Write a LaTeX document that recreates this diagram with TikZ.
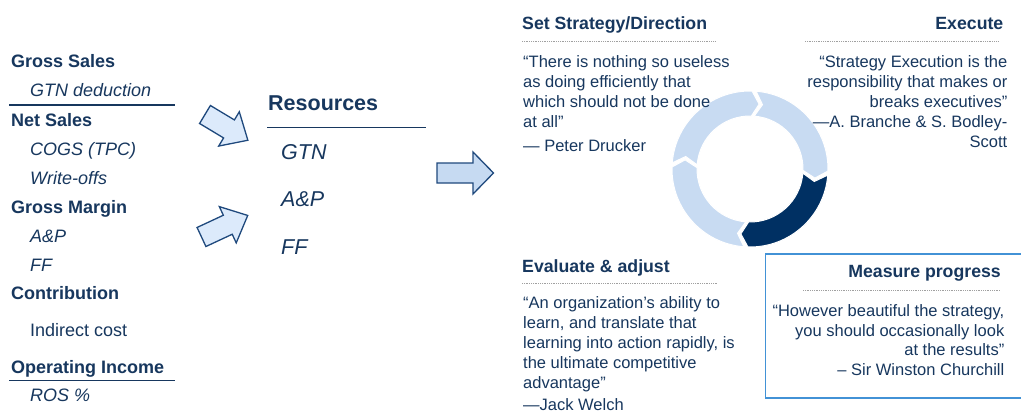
\documentclass[tikz,border=0pt]{standalone}
\usepackage{fontspec}
\setmainfont{Liberation Sans}
\definecolor{navy}{RGB}{23,55,94}
\definecolor{darkseg}{RGB}{0,48,99}
\definecolor{lightseg}{RGB}{200,219,242}
\definecolor{arrowfill}{RGB}{220,234,251}
\definecolor{arrowfillb}{RGB}{198,218,242}
\definecolor{arrowline}{RGB}{31,73,125}
\definecolor{boxline}{RGB}{66,146,214}
\definecolor{dotgray}{RGB}{160,160,160}
\tikzset{
  listbold/.style={anchor=base west, inner sep=0, text=navy, font=\fontsize{18}{21.6}\selectfont\bfseries},
  listit/.style={anchor=base west, inner sep=0, text=navy, font=\fontsize{18}{21.6}\selectfont\itshape},
  listreg/.style={anchor=base west, inner sep=0, text=navy, font=\fontsize{18}{21.6}\selectfont},
  resbold/.style={anchor=base west, inner sep=0, text=navy, font=\fontsize{21.5}{25}\selectfont\bfseries},
  resit/.style={anchor=base west, inner sep=0, text=navy, font=\fontsize{21.5}{25}\selectfont\itshape},
  head/.style={inner sep=0, text=navy, font=\fontsize{17.7}{20}\selectfont\bfseries},
  quote/.style={inner sep=0, text=navy, font=\fontsize{16.5}{20}\selectfont},
  rule/.style={draw=navy, line width=1.4pt},
  dotrule/.style={draw=dotgray, line width=0.9pt, dash pattern=on 0.9pt off 0.9pt},
  blockarrow/.style={draw=arrowline, line width=1.3pt, fill=arrowfill, line join=miter},
  seg/.style={draw=white, line width=1pt},
}
\newcommand{\ringseg}[2]{% #1 start angle, #2 fill colour
  \fill[#2, seg] ({#1-1.5}:78) arc[start angle={#1-1.5}, end angle={#1-88.5}, radius=78]
    -- ({#1-95}:65.5) -- ({#1-88.5}:53)
    arc[start angle={#1-88.5}, end angle={#1-1.5}, radius=53]
    -- ({#1-8}:65.5) -- cycle;}
\begin{document}
\begin{tikzpicture}[x=1pt,y=-1pt]
\useasboundingbox (0,0) rectangle (1021,412);
\fill[white] (0,0) rectangle (1021,412);

% left list
\node[listbold] (gs) at (11,68) {Gross Sales};
\node[listit] (gtn) at (30,97) {GTN deduction};
\coordinate (r1a) at (9,105); \coordinate (r1b) at (175,105);
\draw[rule] (r1a) -- (r1b);
\node[listbold] (ns) at (11,126) {Net Sales};
\node[listit] (cogs) at (30,155) {COGS (TPC)};
\node[listit] (wo) at (30,184) {Write-offs};
\node[listbold] (gm) at (11,213) {Gross Margin};
\node[listit] (ap) at (30,242) {A\&P};
\node[listit] (ff) at (30,271) {FF};
\node[listbold] (con) at (11,299) {Contribution};
\node[listreg] (ic) at (30,336) {Indirect cost};
\node[listbold] (oi) at (11,373) {Operating Income};
\coordinate (r2a) at (9,380.5); \coordinate (r2b) at (175,380.5);
\draw[rule] (r2a) -- (r2b);
\node[listit] (ros) at (30,401.5) {ROS \%};

% block arrows
\begin{scope}[shift={(205,114.5)}, rotate=-31]
  \draw[blockarrow] (0,-10.5) -- (28,-10.5) -- (28,-20) -- (50,0) -- (28,20) -- (28,10.5) -- (0,10.5) -- cycle;
\end{scope}
\begin{scope}[shift={(201.5,237)}, rotate=25]
  \draw[blockarrow] (0,-10.5) -- (29,-10.5) -- (29,-20) -- (51,0) -- (29,20) -- (29,10.5) -- (0,10.5) -- cycle;
\end{scope}
\draw[blockarrow, fill=arrowfillb] (437,163) -- (473,163) -- (473,152) -- (493.5,173) -- (473,194) -- (473,183) -- (437,183) -- cycle;

% resources
\node[resbold] (res) at (268,110.5) {Resources};
\coordinate (r3a) at (267,127.5); \coordinate (r3b) at (426,127.5);
\draw[draw=navy, line width=1.2pt] (r3a) -- (r3b);
\node[resit] (rgtn) at (281,159) {GTN};
\node[resit] (rap) at (281,206.5) {A\&P};
\node[resit] (rff) at (281,254) {FF};

% cycle
\begin{scope}[shift={(750,169)}, yscale=-1]
  \ringseg{87}{lightseg}
  \ringseg{357}{darkseg}
  \ringseg{267}{lightseg}
  \ringseg{177}{lightseg}
\end{scope}

% Set strategy
\node[head, anchor=base west] (h1) at (522,29.5) {Set Strategy/Direction};
\coordinate (d1a) at (522,41.7); \coordinate (d1b) at (715,41.7);
\draw[dotrule] (d1a) -- (d1b);
\node[quote, anchor=north west, align=left] (q1) at (523,53) {\strut“There is nothing so useless\\as doing efficiently that\\which should not be done\\at all”\\[4.7pt]— Peter Drucker};

% Execute
\node[head, anchor=base east] (h2) at (1003.5,30) {Execute};
\coordinate (d2a) at (805,41.7); \coordinate (d2b) at (998,41.7);
\draw[dotrule] (d2a) -- (d2b);
\node[quote, anchor=north east, align=right] (q2) at (1007.5,53) {\strut“Strategy Execution is the\\responsibility that makes or\\breaks executives”\\—A. Branche \& S. Bodley-\\Scott};

% Evaluate
\node[head, anchor=base west] (h3) at (522,272) {Evaluate \& adjust};
\coordinate (d3a) at (522,283); \coordinate (d3b) at (717,283);
\draw[dotrule] (d3a) -- (d3b);
\node[quote, anchor=north west, align=left] (q3) at (523,294.3) {\strut“An organization’s ability to\\learn, and translate that\\learning into action rapidly, is\\the ultimate competitive\\advantage”\\[1.7pt]—Jack Welch};

% Measure progress
\node[draw=boxline, line width=1.5pt, inner sep=0, minimum width=262, minimum height=144, anchor=north west] (box) at (764.5,253) {};
\node[head, anchor=base east] (h4) at (1001,277.3) {Measure progress};
\coordinate (d4a) at (803,290); \coordinate (d4b) at (1000,290);
\draw[dotrule] (d4a) -- (d4b);
\node[quote, anchor=north east, align=right, font=\fontsize{16.5}{19.5}\selectfont] (q4) at (1004.5,302.85) {\strut“However beautiful the strategy,\\you should occasionally look\\at the results”\\– Sir Winston Churchill};
\end{tikzpicture}
\end{document}
